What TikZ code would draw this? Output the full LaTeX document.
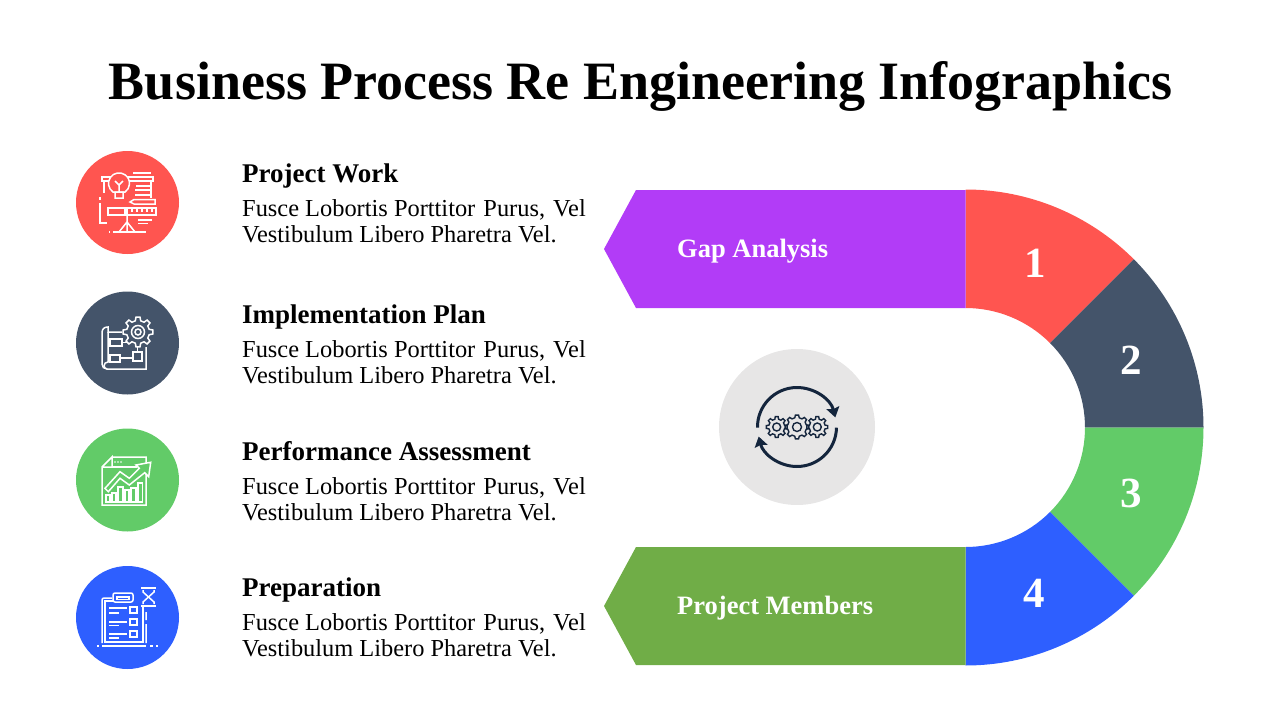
\documentclass[tikz,border=0pt]{standalone}
\usepackage{xcolor}
\usepackage{fontspec}
\setmainfont{Liberation Serif}
\usetikzlibrary{shapes,arrows,arrows.meta,positioning,matrix}
\definecolor{redpart}{HTML}{FF5550}
\definecolor{slatepart}{HTML}{44546A}
\definecolor{greenpart}{HTML}{62CB68}
\definecolor{bluepart}{HTML}{2E5FFF}
\definecolor{purplepart}{HTML}{B23CF7}
\definecolor{olivepart}{HTML}{70AD47}
\definecolor{hubgrey}{HTML}{E7E6E6}
\definecolor{hubink}{HTML}{14253D}
\tikzstyle{badge} = [circle,minimum size=103pt,inner sep=0pt]
\tikzstyle{headtext} = [anchor=west,inner sep=0pt,text height=19pt,text depth=7pt,font=\fontsize{27}{30}\selectfont\bfseries]
\tikzstyle{bodytext} = [inner sep=0pt,align=left,font=\fontsize{24.4}{26}\selectfont]
\tikzstyle{tagtext} = [anchor=west,inner sep=0pt,text=white,font=\fontsize{26.5}{30}\selectfont\bfseries]
\tikzstyle{numtext} = [inner sep=0pt,text=white,font=\fontsize{43}{46}\selectfont\bfseries]
\tikzstyle{iconline} = [white,line width=1.5pt]
\tikzstyle{hubline} = [hubink,line width=1.4pt]
\newcommand{\bandpart}[3]{%
  \fill[#3] ([shift={(#1:238pt)}]hub) arc[start angle=#1,end angle=#2,radius=238pt]
    -- ([shift={(#2:119.5pt)}]hub) arc[start angle=#2,end angle=#1,radius=119.5pt] -- cycle;}
\newcommand{\gearicon}[6]{%
  \begin{scope}[shift={(#1,#2)}]
    \pgfmathsetmacro\gearstep{360/#4}
    \draw[#6] ({0.7*\gearstep}:#5) \foreach \k in {1,...,#4} {
      -- ({(\k-0.3)*\gearstep}:#5) -- ({(\k-0.17)*\gearstep}:#3)
      -- ({(\k+0.17)*\gearstep}:#3) -- ({(\k+0.3)*\gearstep}:#5)} -- cycle;
  \end{scope}}
\newcommand{\bodylines}{Fusce Lobortis Porttitor\hspace{2pt} Purus,\hspace{2pt} Vel\\Vestibulum Libero Pharetra Vel.}

\begin{document}
\begin{tikzpicture}[x=1pt,y=-1pt]
    \useasboundingbox (0,0) rectangle (1280,720);

    % Title
    \node[inner sep=0pt,font=\fontsize{54}{58}\selectfont\bfseries] (title) at (641,86) {Business Process Re Engineering Infographics};

    % U shaped band
    \coordinate (hub) at (965.5,427.5);
    \bandpart{90}{45}{redpart}
    \bandpart{45}{0}{slatepart}
    \bandpart{0}{-45}{greenpart}
    \bandpart{-45}{-90}{bluepart}
    \fill[purplepart] (965.6,190) -- (636,190) -- (604,249) -- (636,308) -- (965.6,308) -- cycle;
    \fill[olivepart] (965.6,547) -- (636,547) -- (604,606) -- (636,665) -- (965.6,665) -- cycle;
    \node[tagtext] (gap) at (677,251) {Gap Analysis};
    \node[tagtext] (members) at (677,608) {Project Members};
    \node[numtext] (num1) at (1035,263) {1};
    \node[numtext] (num2) at (1131,360) {2};
    \node[numtext] (num3) at (1131,493) {3};
    \node[numtext] (num4) at (1034,593) {4};

    % Left column
    \node[badge,fill=redpart] (badge1) at (127.5,202.5) {};
    \node[badge,fill=slatepart] (badge2) at (127.5,343) {};
    \node[badge,fill=greenpart] (badge3) at (127.5,480) {};
    \node[badge,fill=bluepart] (badge4) at (127.5,617.5) {};

    \node[headtext] (head1) at (242,176) {Project Work};
    \node[headtext] (head2) at (242,317) {Implementation Plan};
    \node[headtext] (head3) at (242,454) {Performance Assessment};
    \node[headtext] (head4) at (242,590) {Preparation};

    \node[bodytext,below right=10.5pt and 0pt of head1.south west] (body1) {\bodylines};
    \node[bodytext,below right=10.5pt and 0pt of head2.south west] (body2) {\bodylines};
    \node[bodytext,below right=10.5pt and 0pt of head3.south west] (body3) {\bodylines};
    \node[bodytext,below right=10.5pt and 0pt of head4.south west] (body4) {\bodylines};

    % Icon of the first badge
    \draw[iconline] (102,177) rectangle (153,181);
    \draw[iconline] (104,181) -- (104,193) (151,181) -- (151,198);
    \draw[iconline] (133,173) -- (151,173) (136,186) -- (150,186) (135,190) -- (150,190) (135,195) -- (150,195);
    \draw[iconline,fill=redpart] (113,192) arc[start angle=235,end angle=-55,radius=10.5pt] -- cycle;
    \draw[iconline] (115,192) rectangle (123,198) (119,192) -- (119,185) (115,181) -- (119,185) -- (123,181);
    \draw[iconline] (130,202) -- (134,199.5) -- (155,199.5) -- (155,204) -- (134,204) -- cycle;
    \draw[iconline] (108,208) rectangle (125,215) (127,208) rectangle (156,215);
    \foreach \tx in {132,137,...,152} {\draw[iconline] (\tx,208) -- (\tx,212);}
    \draw[iconline] (100,197) -- (100,200) (100,203) -- (100,223) -- (107,223);
    \draw[iconline] (109,232) -- (110,232) (113,232) -- (146,232);
    \draw[iconline] (127,215) -- (127,232) (127,222) -- (119,232) (127,222) -- (135,232);
    \draw[iconline] (138,220) -- (152,220) (138,223.5) -- (148,223.5);

    % Icon of the second badge
    \gearicon{138}{332}{15}{8}{11.5}{iconline}
    \draw[iconline] (138,332) circle[radius=6.5pt] (138,332) circle[radius=3pt];
    \draw[iconline] (122,332) -- (108,332) -- (108,327) .. controls (104,327) and (102,329) .. (102,333) -- (102,364) .. controls (102,367) and (104,369) .. (107,369) -- (146,369) -- (146,347);
    \draw[iconline] (108,332) -- (108,362) .. controls (103,362) and (103,369) .. (107,369);
    \draw[iconline] (110,339) rectangle (122,346) (110,355) rectangle (120,362) (133,352) rectangle (142,361);
    \draw[iconline] (122,342.5) -- (127,342.5) (120,358) -- (133,358) (137.5,352) -- (137.5,347);

    % Icon of the third badge
    \draw[iconline] (112,457) -- (146,457) -- (146,505) -- (102,505) -- (102,467) -- (112,457) -- (112,467) -- (102,467);
    \draw[iconline] (112,467) -- (137,467);
    \foreach \dx in {115,118,121} {\fill[white] (\dx,462) circle[radius=0.8pt];}
    \draw[iconline] (106,495) rectangle (110,502) (112,493) rectangle (116,502) (118,487) rectangle (123,502) (125,490) rectangle (129,502) (131,488) rectangle (136,502) (138,483) rectangle (142.5,502);
    \draw[iconline,fill=greenpart] (105,488.3) -- (120,471.7) -- (129.3,478.3) -- (139.3,468.3) -- (136,465) -- (150.7,462.3) -- (148.7,476.7) -- (144.7,472.7) -- (129.3,485) -- (120,478.3) -- (108.3,491.7) -- cycle;

    % Icon of the fourth badge
    \draw[iconline,rounded corners=2pt] (112,598) -- (102,598) -- (102,643) (146,612) -- (146,620) (146,624) -- (146,643);
    \draw[iconline] (113,601) -- (105,601) -- (105,642) -- (143,642) -- (143,606);
    \draw[iconline,rounded corners=2pt] (113,602) -- (113,593) -- (133,593) -- (133,602) -- cycle;
    \draw[iconline] (117,597) rectangle (129,599.5);
    \draw[iconline] (109,608) -- (127,608) (109,613) -- (119,613) (109,622) -- (127,622) (109,625.5) -- (119,625.5) (109,634) -- (127,634) (109,638) -- (119,638);
    \draw[iconline] (130,607) rectangle (137,613) (130,619) rectangle (137,625) (130,631) rectangle (137,637);
    \draw[iconline] (97,646) -- (99,646) (102,646) -- (146,646) (150,646) -- (153,646) (156,646) -- (158,646);
    \draw[iconline] (141,588) -- (156,588) (141,606) -- (156,606);
    \draw[iconline] (143,590) -- (143,592) -- (148.5,597) -- (143,602) -- (143,604) (154,590) -- (154,592) -- (148.5,597) -- (154,602) -- (154,604);

    % Icon in the middle
    \node[circle,fill=hubgrey,minimum size=156pt,inner sep=0pt] (centre) at (797,427) {};
    \draw[hubink,line width=3pt,-{Stealth[length=10pt,width=13pt,inset=1.5pt]}] ([shift={(181:39.5pt)}]centre.center) arc[start angle=181,end angle=14,radius=39.5pt];
    \draw[hubink,line width=3pt,-{Stealth[length=10pt,width=13pt,inset=1.5pt]}] ([shift={(-1:39.5pt)}]centre.center) arc[start angle=-1,end angle=-166,radius=39.5pt];
    \gearicon{776.7}{427}{10.5}{8}{8}{hubline}
    \gearicon{797}{427}{12}{8}{9.5}{hubline}
    \gearicon{817.3}{427}{10.5}{8}{8}{hubline}
    \draw[hubline] (776.7,427) circle[radius=4pt] (797,427) circle[radius=4.5pt] (817.3,427) circle[radius=4pt];

\end{tikzpicture}
\end{document}
